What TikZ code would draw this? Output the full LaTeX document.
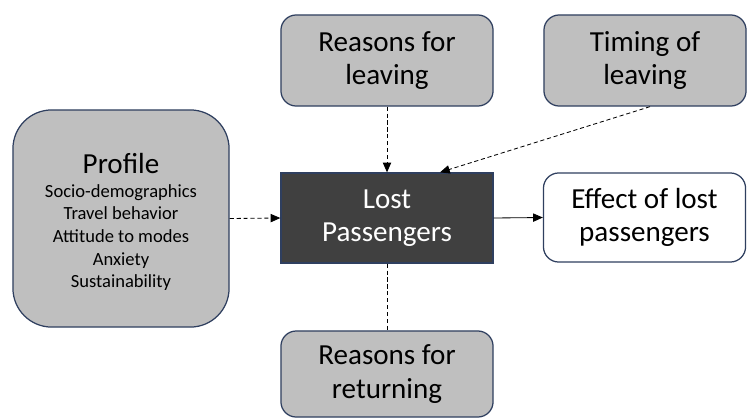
\documentclass[tikz,border=0pt]{standalone}
\usepackage{fontspec}
\setmainfont{Carlito}
\usetikzlibrary{arrows.meta}
\definecolor{boxline}{HTML}{2F3F5F}
\definecolor{boxgray}{HTML}{BFBFBF}
\definecolor{boxdark}{HTML}{404040}
\tikzset{every node/.style={align=center, inner sep=0pt, font=\fontsize{21}{24}\selectfont},
  factor/.style={draw=boxline, fill=boxgray, rounded corners=11pt, line width=0.9pt},
  core/.style={draw=boxline, fill=boxdark, text=white, line width=0.9pt},
  result/.style={draw=boxline, fill=white, rounded corners=11pt, line width=0.9pt},
  link/.style={-{Triangle[length=7pt,width=6pt]}, line width=0.6pt},
  weak/.style={dashed, dash pattern=on 3pt off 2pt}}

\begin{document}
\begin{tikzpicture}[x=0.01in,y=-0.01in]
  \useasboundingbox (0,0) rectangle (747,417);
  \node[factor, minimum width=2.12in, minimum height=0.91in] (leave)  at (387,60.5)  {Reasons for\\leaving};
  \node[factor, minimum width=2.02in, minimum height=0.91in] (timing) at (645,60.5)  {Timing of\\leaving};
  \node[core,   minimum width=2.12in, minimum height=0.90in] (lost)   at (387,218)   {Lost\\Passengers};
  \node[result, minimum width=2.02in, minimum height=0.89in] (effect) at (644.5,217.5) {Effect of lost\\passengers};
  \node[factor, rounded corners=28pt, minimum width=2.16in, minimum height=2.17in] (profile) at (121,218.5) {};
  \node (ptitle) at (121,164) {Profile};
  \node[font=\fontsize{13.4}{16.4}\selectfont] (plist) at (121,237.5)
       {Socio-demographics\\Travel behavior\\Attitude to modes\\Anxiety\\Sustainability};
  \node[factor, minimum width=2.12in, minimum height=0.86in] (return) at (387,374) {Reasons for\\returning};
  % connectors
  \draw[link, weak] (profile.east) -- (lost.west);
  \draw[link, weak] (leave.south) -- (lost.north);
  \draw[link, weak] (timing.south) ++(5,0) coordinate (tfoot) (tfoot) -- ([xshift=0.53in]lost.north);
  \draw[link] (lost.east) -- (effect.west);
  \draw[weak, line width=0.6pt] (lost.south) -- (return.north);
\end{tikzpicture}
\end{document}
